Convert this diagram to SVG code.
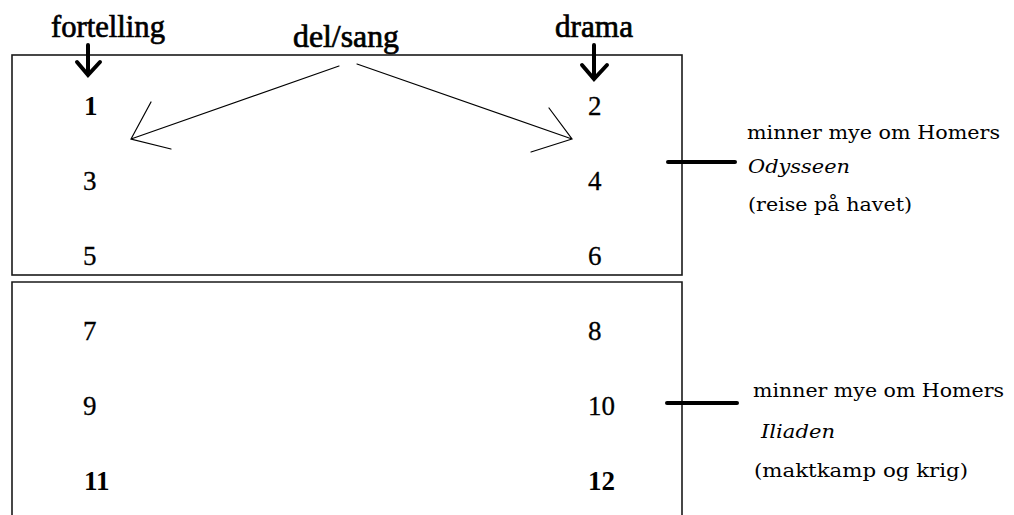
<svg xmlns="http://www.w3.org/2000/svg" width="1014" height="515" viewBox="0 0 1014 515">
  <style>
    .frame { fill: none; stroke: #1a1a1a; stroke-width: 1.6; }
    .head { font-family: "Liberation Serif", "Times New Roman", serif; font-size: 32px; fill: #000; stroke: #000; stroke-width: 0.7; }
    .num { font-family: "Liberation Serif", "Times New Roman", serif; font-size: 27px; fill: #000; stroke: #000; stroke-width: 0.3; }
    .num.b { font-weight: bold; stroke-width: 0; }
    .note { font-family: "DejaVu Serif", serif; font-size: 19px; fill: #000; }
    .note.i { font-style: italic; }
    .thin { fill: none; stroke: #000; stroke-width: 1.2; stroke-linecap: round; }
    .thick { fill: none; stroke: #000; stroke-width: 4; stroke-linecap: round; stroke-linejoin: miter; }
  </style>
  <rect width="1014" height="515" fill="#fff"/>

  <!-- upper and lower panels -->
  <g id="panel-top">
    <rect class="frame" x="12" y="55" width="670" height="220"/>
  </g>
  <g id="panel-bottom">
    <path class="frame" d="M12 520 V282 H682 V520"/>
  </g>

  <!-- column headings -->
  <g id="head-fortelling">
    <text class="head" x="51" y="37" textLength="114" lengthAdjust="spacingAndGlyphs">fortelling</text>
  </g>
  <g id="head-delsang">
    <text class="head" x="293" y="47" textLength="106" lengthAdjust="spacingAndGlyphs">del/sang</text>
  </g>
  <g id="head-drama">
    <text class="head" x="555" y="37" textLength="78" lengthAdjust="spacingAndGlyphs">drama</text>
  </g>

  <!-- numbered parts -->
  <g id="n1"><text class="num b" x="84" y="115">1</text></g>
  <g id="n2"><text class="num" x="588" y="115">2</text></g>
  <g id="n3"><text class="num" x="83" y="190">3</text></g>
  <g id="n4"><text class="num" x="588" y="190">4</text></g>
  <g id="n5"><text class="num" x="83" y="265">5</text></g>
  <g id="n6"><text class="num" x="588" y="265">6</text></g>
  <g id="n7"><text class="num" x="83" y="340">7</text></g>
  <g id="n8"><text class="num" x="588" y="340">8</text></g>
  <g id="n9"><text class="num" x="83" y="415">9</text></g>
  <g id="n10"><text class="num" x="588" y="415">10</text></g>
  <g id="n11"><text class="num b" x="84" y="490">11</text></g>
  <g id="n12"><text class="num b" x="588" y="490">12</text></g>

  <!-- side notes -->
  <g id="note-odysseen">
    <text class="note" x="747" y="139" textLength="253" lengthAdjust="spacingAndGlyphs">minner mye om Homers</text>
    <text class="note i" x="748" y="173" textLength="102" lengthAdjust="spacingAndGlyphs">Odysseen</text>
    <text class="note" x="748" y="211" textLength="164" lengthAdjust="spacingAndGlyphs">(reise på havet)</text>
  </g>
  <g id="note-iliaden">
    <text class="note" x="753" y="397" textLength="251" lengthAdjust="spacingAndGlyphs">minner mye om Homers</text>
    <text class="note i" x="761" y="438" textLength="74" lengthAdjust="spacingAndGlyphs">Iliaden</text>
    <text class="note" x="754" y="477" textLength="214" lengthAdjust="spacingAndGlyphs">(maktkamp og krig)</text>
  </g>

  <!-- connectors -->
  <g id="connectors">
    <!-- heading down-arrows -->
    <path class="thick" d="M88 45 V75 M77 62 L88 75 L100 62"/>
    <path class="thick" d="M594 45 V79 M582 65 L594 79 L607 65"/>
    <!-- del/sang split arrows with open heads -->
    <path class="thin" d="M339 66 L131 139 M151 102 L131 139 L171 149"/>
    <path class="thin" d="M357 64 L572 139 M549 108 L572 139 L531 152"/>
    <!-- ties from panels to notes -->
    <path class="thick" d="M668 162 H735"/>
    <path class="thick" d="M667 403 H737"/>
  </g>
</svg>
